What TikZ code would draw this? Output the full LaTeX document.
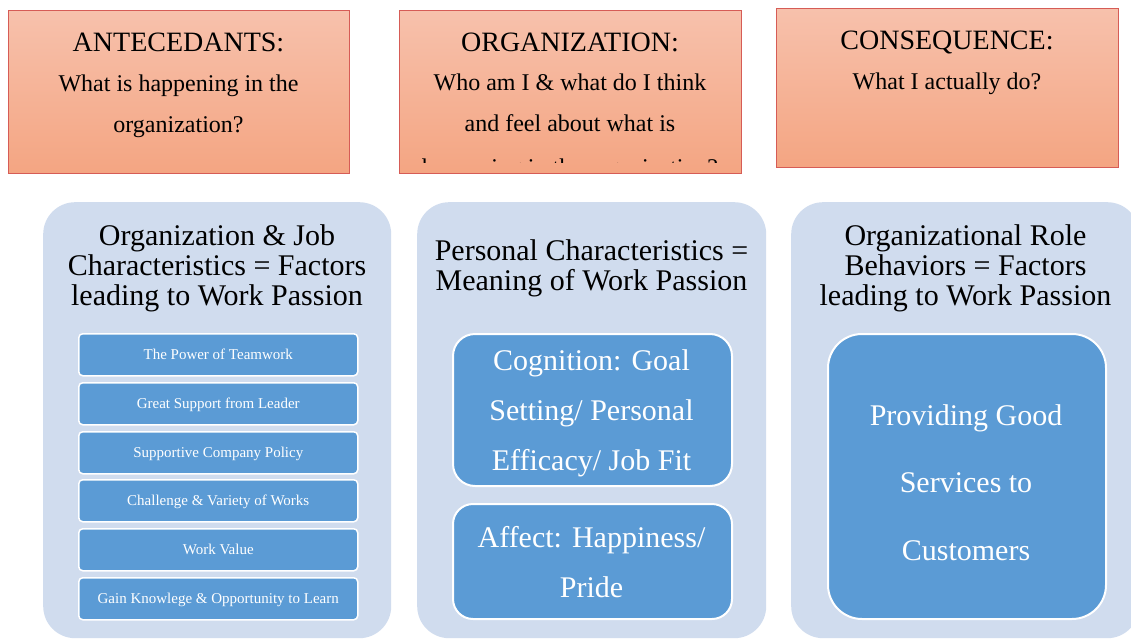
\documentclass[tikz,border=0pt]{standalone}
\usepackage{fontspec}
\setmainfont{Liberation Serif}
\definecolor{salmonTop}{RGB}{247,193,172}
\definecolor{salmonBot}{RGB}{244,165,130}
\definecolor{boxred}{RGB}{214,92,86}
\definecolor{panelblue}{RGB}{208,220,238}
\definecolor{itemblue}{RGB}{91,155,213}
\newcommand\mlines[1]{\begin{tabular}[t]{@{}c@{}}#1\end{tabular}}
\begin{document}
\begin{tikzpicture}[x=1pt,y=-1pt,
  tbox/.style={draw=boxred, line width=1pt, top color=salmonTop, bottom color=salmonBot, inner sep=0pt, anchor=north west},
  panel/.style={fill=panelblue, rounded corners=32pt, inner sep=0pt, anchor=north west},
  itembox/.style={fill=itemblue, draw=white, line width=1.5pt, rounded corners=4pt, inner sep=0pt, anchor=north west,
    minimum width=279pt, minimum height=42pt, text=white, font=\fontsize{15}{17}\selectfont, text height=10pt, text depth=0pt},
  innerbox/.style={fill=itemblue, draw=white, line width=2pt, inner sep=0pt, anchor=north west},
  txt/.style={inner sep=0pt, anchor=base},
  headfont/.style={font=\fontsize{28}{34}\selectfont},
  subfont/.style={font=\fontsize{24}{40.5}\selectfont},
  titlefont/.style={font=\fontsize{30}{30}\selectfont},
  bigwhite/.style={font=\fontsize{30}{50}\selectfont, text=white}
]
\useasboundingbox (0,0) rectangle (1131,639);
\fill[white] (0,0) rectangle (1131,639);

% top boxes
\node[tbox, minimum width=341pt, minimum height=163pt] (h1) at (8,10) {};
\node[tbox, minimum width=342pt, minimum height=163pt] (h2) at (399,10) {};
\node[tbox, minimum width=342pt, minimum height=159pt] (h3) at (776,8) {};

\node[txt, headfont] (h1t) at (178.5,52) {ANTECEDANTS:};
\node[txt, subfont] (h1s) at (178.5,92) {\mlines{What is happening in the\\organization?}};

\node[txt, headfont] (h2t) at (570,52) {ORGANIZATION:};
\begin{scope}
  \clip (400,11) rectangle (740,163);
  \node[txt, subfont, font=\fontsize{24}{41}\selectfont] (h2s) at (570,91) {\mlines{Who am I \& what do I think\\and feel about what is\\[2.5pt]happening in the organization?}};
\end{scope}

\node[txt, headfont] (h3t) at (947,50) {CONSEQUENCE:};
\node[txt, subfont] (h3s) at (947,90) {What I actually do?};

% panels
\node[panel, minimum width=348pt, minimum height=436pt] (p1) at (43,202) {};
\node[panel, minimum width=349pt, minimum height=436pt] (p2) at (417,202) {};
\node[panel, minimum width=348pt, minimum height=436pt] (p3) at (791,202) {};

\node[txt, titlefont] (p1t) at (217,245) {\mlines{Organization \& Job\\Characteristics = Factors\\leading to Work Passion}};
\node[txt, titlefont] (p2t) at (591.5,260) {\mlines{Personal Characteristics =\\Meaning of Work Passion}};
\node[txt, titlefont] (p3t) at (965.5,245) {\mlines{Organizational Role\\Behaviors = Factors\\leading to Work Passion}};

% items panel 1
\node[itembox] (i1) at (78,333) {The Power of Teamwork};
\node[itembox] (i2) at (78,382) {Great Support from Leader};
\node[itembox] (i3) at (78,431) {Supportive Company Policy};
\node[itembox] (i4) at (78,479) {Challenge \& Variety of Works};
\node[itembox] (i5) at (78,528) {Work Value};
\node[itembox] (i6) at (78,577) {Gain Knowlege \& Opportunity to Learn};

% panel 2 inner boxes
\node[innerbox, rounded corners=22pt, minimum width=279pt, minimum height=152pt] (c1) at (452,333) {};
\node[innerbox, rounded corners=20pt, minimum width=279pt, minimum height=115pt] (c2) at (452,503) {};
\node[txt, bigwhite] (c1t) at (591.5,370) {\mlines{Cognition: Goal\\Setting/ Personal\\Efficacy/ Job Fit}};
\node[txt, bigwhite] (c2t) at (591.5,547) {\mlines{Affect: Happiness/\\Pride}};

% panel 3 inner box
\node[innerbox, rounded corners=34pt, minimum width=278pt, minimum height=285pt] (c3) at (827,333) {};
\node[txt, bigwhite, font=\fontsize{30}{67.5}\selectfont] (c3t) at (966,425) {\mlines{Providing Good\\Services to\\Customers}};
\end{tikzpicture}
\end{document}
